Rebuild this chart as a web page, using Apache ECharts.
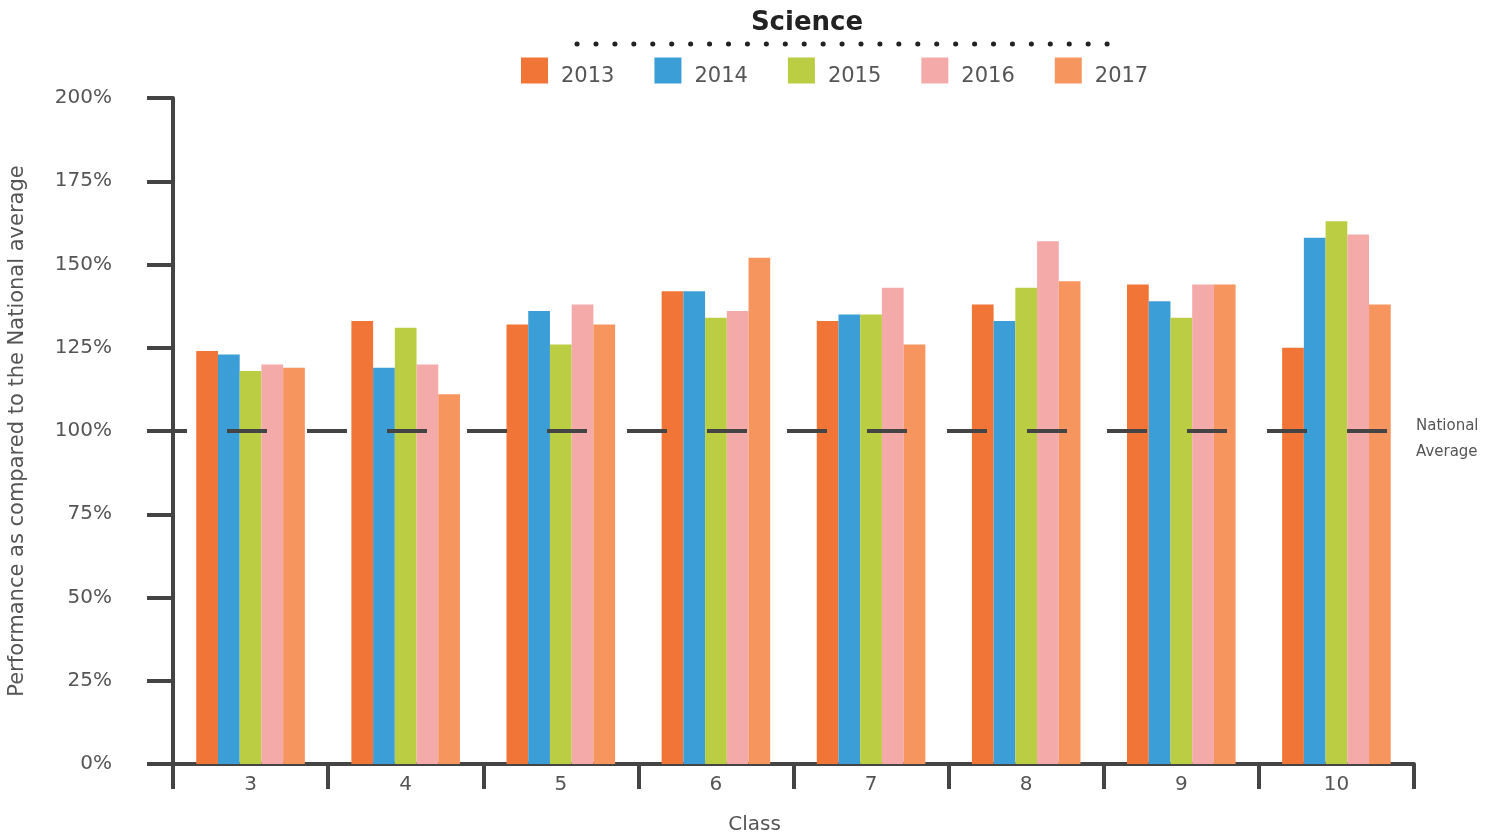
<!DOCTYPE html>
<html>
<head>
<meta charset="utf-8">
<script src="https://cdn.jsdelivr.net/npm/echarts@6/dist/echarts.min.js"></script>
<style>
html,body{margin:0;padding:0;background:#fff;}
#chart{width:1496px;height:839px;}
</style>
</head>
<body>
<div id="chart"></div>
<script>
const classes = ['3','4','5','6','7','8','9','10'];
const years = ['2013','2014','2015','2016','2017'];
const v2013 = [124,133,132,142,133,138,144,125];
const v2014 = [123,119,136,142,135,133,139,158];
const v2015 = [118,131,126,134,135,143,134,163];
const v2016 = [120,120,138,136,143,157,144,159];
const v2017 = [119,111,132,152,126,145,144,138];
const nationalAverage = 100;
const yTicks = [0,25,50,75,100,125,150,175,200];
const colors = ['#F07536','#3C9ED6','#BACD43','#F5AAAA','#F7955F'];
const seriesValues = [v2013,v2014,v2015,v2016,v2017];

const FONT = 'DejaVu Sans';
const chart = echarts.init(document.getElementById('chart'), null, {renderer:'canvas'});

const series = years.map((y,i)=>{
  const s = {
    name: y,
    type: 'bar',
    data: seriesValues[i],
    barGap: '0%',
    barCategoryGap: '30%',
    itemStyle: {color: colors[i]},
    emphasis: {disabled:true}
  };
  if (i === 0) {
    s.markLine = {
      silent: true,
      symbol: ['none','none'],
      z: 10,
      data: [{yAxis: nationalAverage}],
      lineStyle: {color:'#444', width:4, type:[40,40], dashOffset:26},
      label: {
        show: true,
        position: 'end',
        distance: 2,
        formatter: '{s| }\n{t|National}\n{t|Average}',
        rich: {
          s: {fontSize: 8, lineHeight: 16},
          t: {fontFamily: FONT, fontSize: 15, lineHeight: 26, color: '#555'}
        },
        fontFamily: FONT,
        fontSize: 15,
        color: '#555'
      }
    };
  }
  return s;
});

chart.setOption({
  animation: false,
  color: colors,
  title: {
    text: 'Science',
    left: 802,
    textAlign: 'center',
    top: 5,
    textStyle: {fontFamily: FONT, fontWeight:'bold', fontSize: 26, color:'#222'}
  },
  legend: {
    data: years,
    top: 49,
    left: 516,
    icon: 'rect',
    itemWidth: 27,
    itemHeight: 26,
    itemGap: 40,
    formatter: '{s| }\n{t|{name}}',
    textStyle: {
      fontFamily: FONT, fontSize: 21, color:'#555', padding:[0,0,0,8],
      rich: {
        s: {fontSize: 8, lineHeight: 12},
        t: {fontFamily: FONT, fontSize: 21, lineHeight: 25, color: '#555'}
      }
    }
  },
  grid: {left:173, right:82, top:98, bottom:75, containLabel:false, outerBoundsMode:'none'},
  xAxis: {
    type: 'category',
    data: classes,
    name: 'Class',
    nameLocation: 'middle',
    nameGap: 51,
    nameTextStyle: {fontFamily: FONT, fontSize: 20, color:'#555', padding:[0,78,0,0]},
    axisLine: {lineStyle:{color:'#444', width:4}},
    axisTick: {show:true, length:25, lineStyle:{color:'#444', width:4}},
    axisLabel: {fontFamily: FONT, fontSize: 20, color:'#555', margin: 11}
  },
  yAxis: {
    type: 'value',
    min: yTicks[0],
    max: yTicks[yTicks.length-1],
    interval: 25,
    name: 'Performance as compared to the National average',
    nameLocation: 'middle',
    nameGap: 145,
    nameTextStyle: {fontFamily: FONT, fontSize: 21, color:'#555'},
    axisLine: {show:true, lineStyle:{color:'#444', width:4}},
    axisTick: {show:true, length:26, lineStyle:{color:'#444', width:4}},
    axisLabel: {fontFamily: FONT, fontSize: 20, color:'#555', margin: 61, formatter: '{value}%'},
    splitLine: {show:false}
  },
  graphic: [{
    type: 'line',
    silent: true,
    shape: {x1: 577, y1: 44, x2: 1110, y2: 44},
    style: {stroke:'#222', lineWidth:5, lineDash:[0.1,18.83], lineCap:'round'}
  }],
  series: series
});
</script>
</body>
</html>
